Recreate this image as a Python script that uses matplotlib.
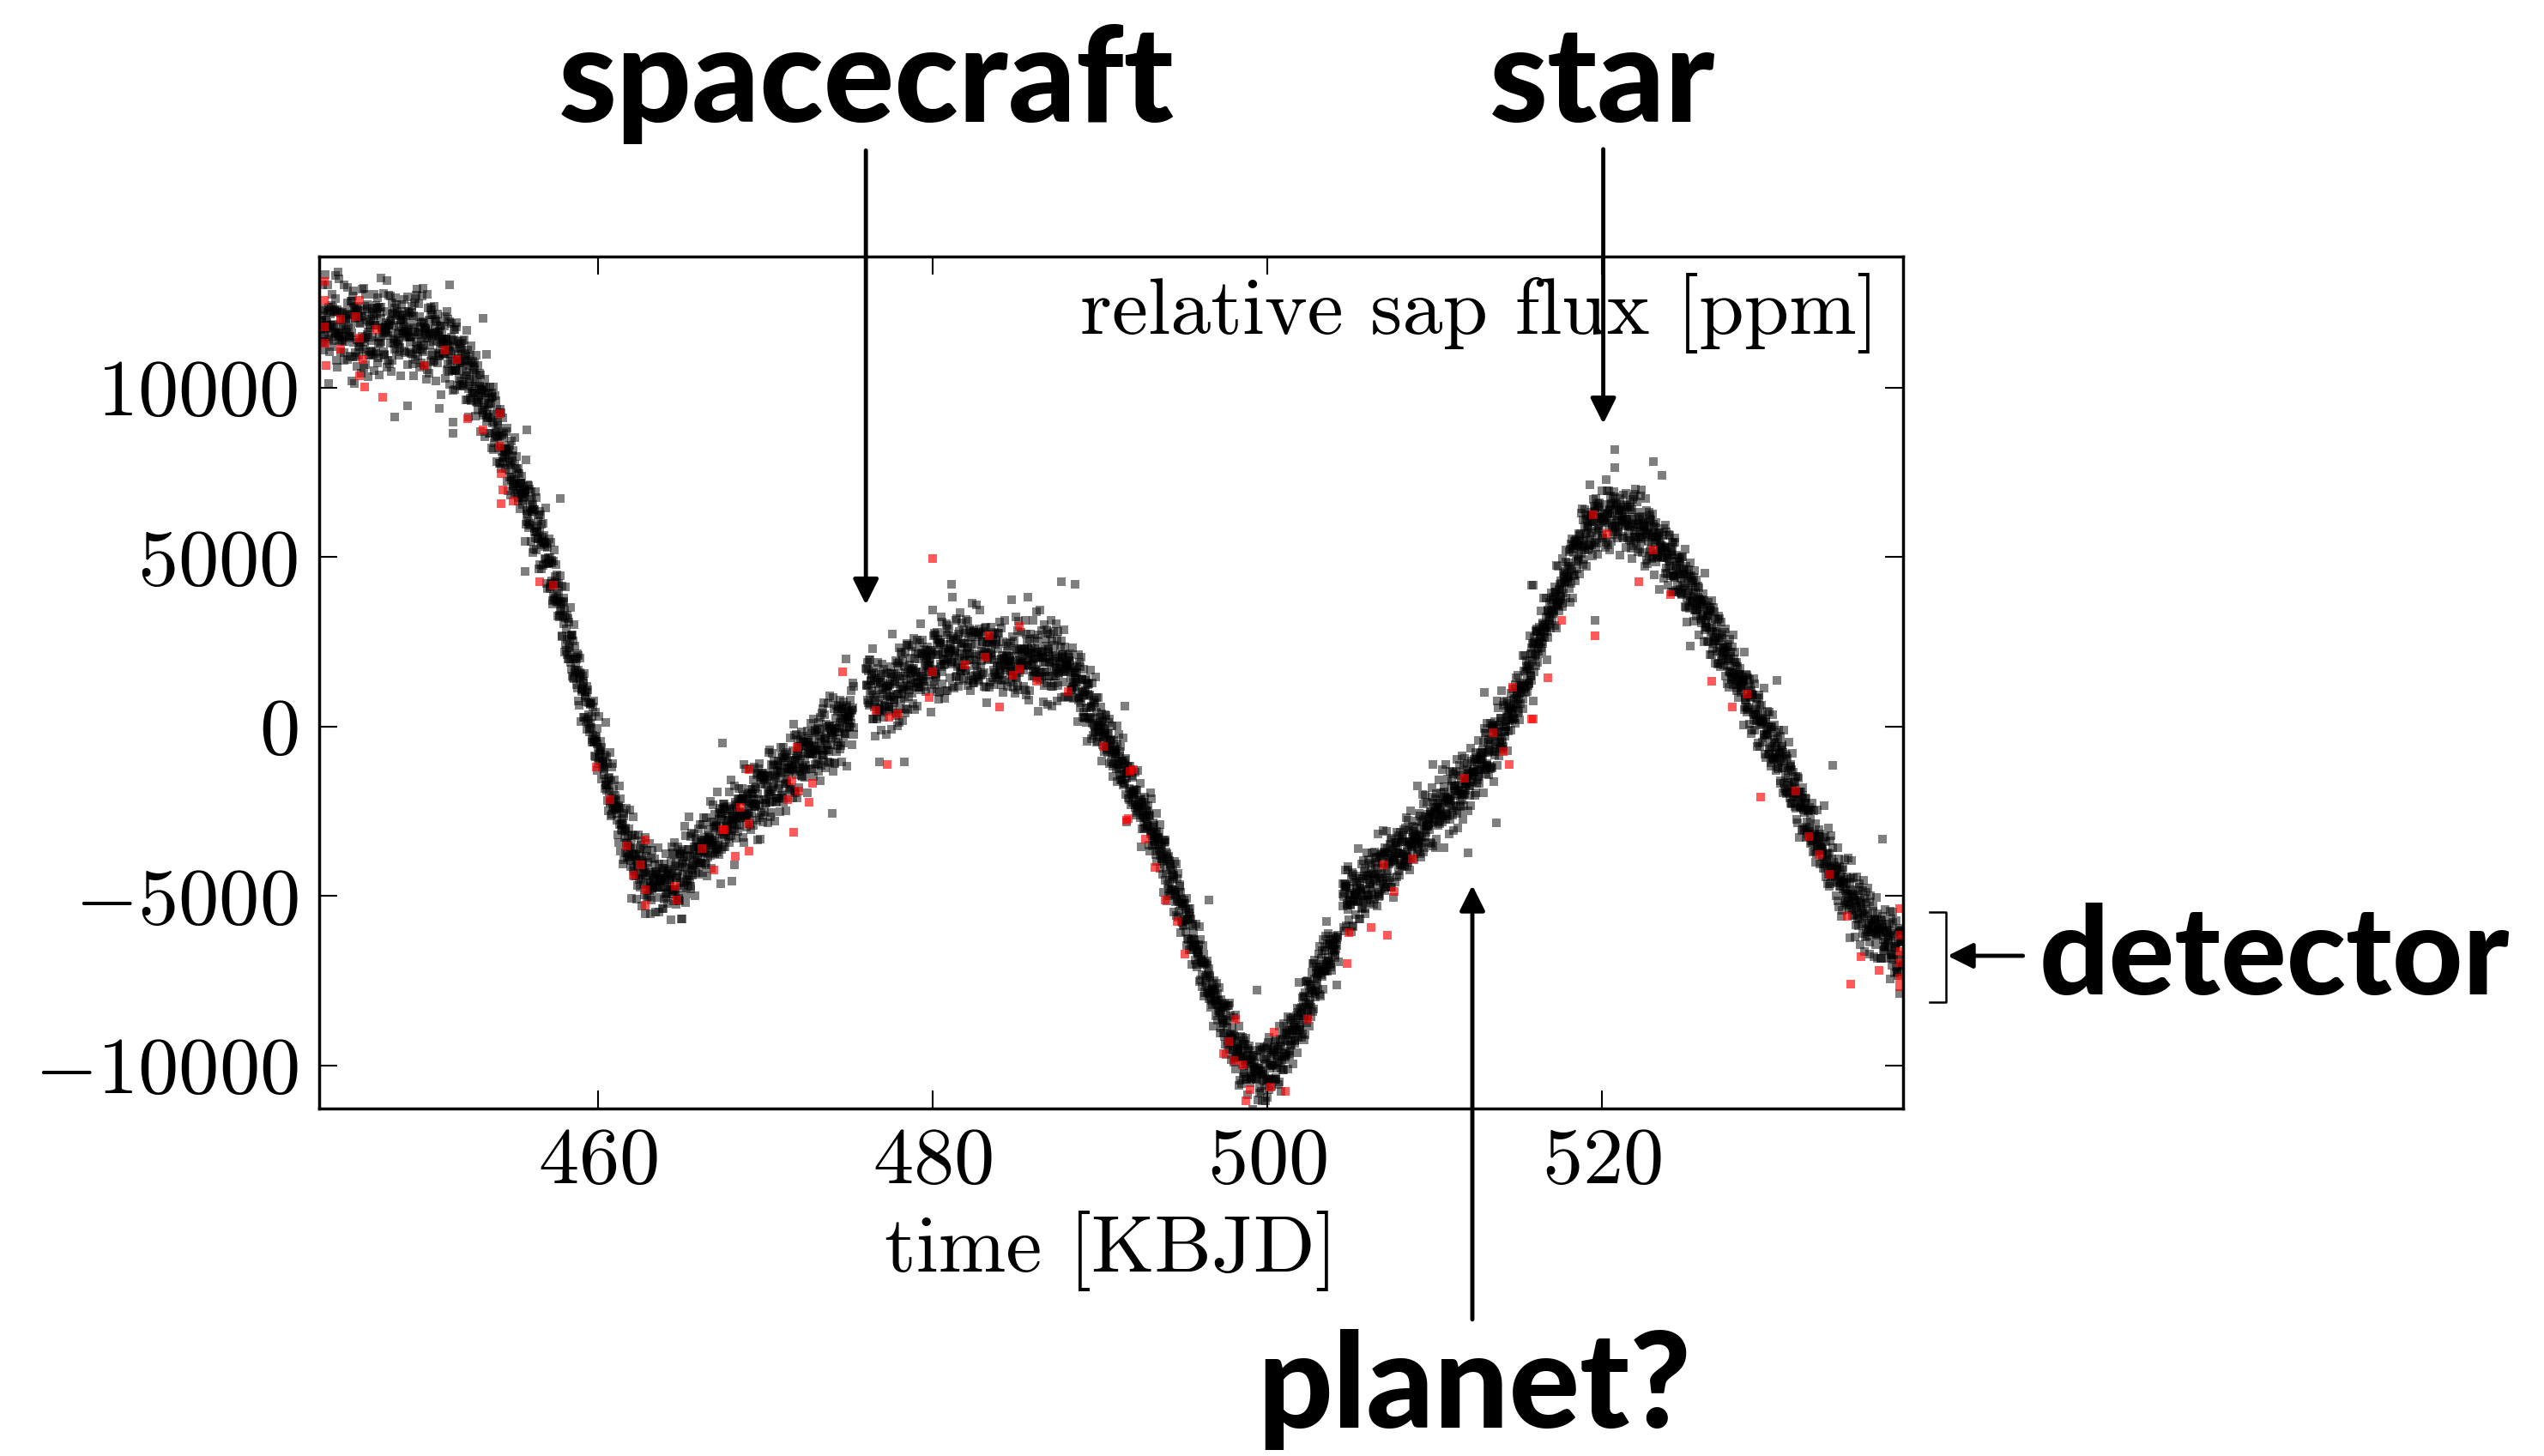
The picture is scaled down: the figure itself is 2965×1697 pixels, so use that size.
import numpy as np
import matplotlib.pyplot as plt
from matplotlib.lines import Line2D

plt.rcParams['font.family'] = 'serif'
plt.rcParams['font.serif'] = ['cmr10']
plt.rcParams['mathtext.fontset'] = 'cm'
plt.rcParams['axes.formatter.use_mathtext'] = True

# smoothed SAP light curve at knots (KBJD, ppm)
knot_time = [443.4, 444.5, 446.0, 448.0, 450.0, 451.0, 452.0, 452.8, 453.6, 454.4,
             455.6, 456.7, 457.7, 458.5, 459.4, 460.1, 460.8, 461.5, 462.1, 463.0,
             464.0, 465.0, 466.0, 467.3, 469.0, 470.8, 472.5, 474.2, 475.2, 476.1,
             476.8, 477.6, 479.3, 481.0, 482.7, 484.5, 486.2, 487.9, 488.9, 489.9,
             491.3, 492.5, 493.2, 494.9, 496.6, 498.3, 499.5, 500.7, 502.1, 503.5,
             504.2, 504.6, 505.2, 506.9, 508.6, 510.3, 512.0, 513.7, 514.6, 515.5,
             516.1, 517.2, 518.9, 519.8, 520.7, 522.4, 524.1, 525.8, 527.5, 529.2,
             530.9, 532.6, 534.4, 536.1, 537.8, 538.1]
knot_flux = [11900, 11800, 11600, 11700, 11500, 11150, 10600, 9900, 9230, 8100,
             6670, 5380, 3620, 2030, 430, -860, -1980, -3120, -3910, -4500,
             -4650, -4350, -3750, -3050, -2300, -1600, -800, -150, 300, 1300,
             800, 1050, 1700, 2150, 2150, 1900, 2000, 1800, 1050, 90,
             -1200, -2500, -3120, -5360, -7760, -9680, -10300, -9840, -8560, -6800,
             -6500, -5100, -5040, -4240, -3440, -2470, -1670, -390, 400, 1400,
             2330, 3620, 5550, 6050, 6190, 5870, 4910, 3620, 2030, 430,
             -1180, -3120, -4720, -5840, -6640, -6750]

# scatter (1 sigma, ppm) along the quarter
spread_time = [443.4, 448, 452, 454, 459, 462, 466, 472, 475, 478, 487, 489, 493,
               498, 500, 502, 505, 512, 515, 518, 520.5, 523, 526, 530, 534, 538.1]
spread_ppm = [750, 700, 600, 550, 520, 550, 600, 600, 550, 650, 650, 520, 460,
              450, 520, 450, 520, 520, 480, 480, 560, 520, 480, 480, 500, 560]

# quarter span, long cadence step and data gaps (days)
t_start, t_end = 443.40, 538.02
cadence = 0.02043
gaps = [(475.3, 476.0), (504.25, 504.5)]

# fixed unit residual tables
resid_a = [0.42, -1.13, 0.07, 1.56, -0.38, -0.91, 0.73, 0.18, -1.62, 1.04, -0.12,
           0.55, -0.67, 1.89, -0.29, 0.31, -1.35, 0.86, -0.05, -0.78, 1.21, 0.26,
           -0.49, -2.05, 0.64, 0.11, -0.98, 1.37, -0.21, 0.49, -1.44, 0.95, 0.02,
           -0.59, 1.68, -0.33, 0.79, -1.06, 0.37, -0.16, 1.12]
resid_b = [-0.57, 0.93, 0.14, -1.28, 0.61, -0.02, 1.47, -0.84, 0.29, -0.36, 1.05,
           -1.71, 0.48, 0.83, -0.44, -0.09, 1.26, -1.02, 0.19, 0.68, -0.63, 2.11,
           -0.27, -1.19, 0.35, 0.76, -0.51, -0.88, 0.04]

# isolated outliers (black)
out_time = [448.6, 451.3, 451.3, 450.5, 447.8, 455.7, 457.7, 455.6, 444.3, 447.0,
            451.1, 453.1, 465.0, 467.4, 487.7, 488.5, 481.1, 485.7, 468.0, 474.0,
            476.8, 478.3, 474.8, 491.5, 496.5, 499.4, 509.9, 512.0, 513.7, 515.8,
            513.0, 504.7, 520.8, 520.8, 523.1, 523.6, 519.3, 515.9, 533.8, 536.8,
            530.5, 525.3, 519.6]
out_flux = [9470, 8660, 8980, 9390, 9150, 8750, 6740, 4580, 13310, 13230,
            13040, 12060, -5680, -470, 4290, 4200, 4200, 3810, -4560, -2550,
            -1030, -1030, 2010, 600, -5110, -7760, -1110, -3730, -2830, 4180,
            1010, -4240, 8180, 7650, 7810, 7410, 7140, 4180, -1140, -3310,
            1370, 2370, 3140]

# flagged cadences (red)
red_time = [443.6, 443.6, 443.6, 443.6, 443.7, 444.6, 444.6, 445.5, 445.7, 445.7,
            445.9, 445.7, 446.0, 446.7, 447.1, 449.6, 450.8, 451.5, 452.2, 453.1,
            454.1, 454.1, 454.2, 454.3, 454.2, 454.9, 456.5, 457.3, 459.9, 460.7,
            461.7, 462.1, 462.5, 462.8, 462.8, 462.8, 464.6, 464.7, 466.2, 466.9,
            467.4, 467.5, 468.2, 468.5, 469.0, 469.0, 469.0, 471.3, 471.6, 472.0,
            471.7, 471.9, 472.6, 472.8, 474.6, 476.6, 477.3, 477.4, 477.9, 480.0,
            479.8, 480.0, 481.9, 483.1, 483.4, 484.0, 484.8, 485.2, 485.2, 486.2,
            488.1, 490.2, 491.8, 491.6, 492.0, 491.7, 492.7, 493.3, 493.9, 494.6,
            495.1, 497.7, 498.1, 497.4, 498.0, 498.5, 498.7, 499.0, 500.2, 501.1,
            500.4, 502.4, 504.9, 504.8, 506.2, 507.0, 507.2, 507.6, 508.7, 511.8,
            513.5, 514.1, 514.5, 514.7, 515.8, 515.9, 516.8, 517.6, 519.5, 520.3,
            519.6, 522.2, 523.1, 524.1, 526.6, 527.8, 528.7, 529.5, 531.6, 532.4,
            533.0, 533.6, 534.7, 534.9, 535.5, 536.6, 537.8, 537.8, 537.9, 537.8,
            537.8, 537.9]
red_flux = [13150, 12590, 11790, 11310, 10670, 12030, 11150, 12110, 12590, 11470,
            10830, 10350, 10030, 11710, 9710, 10670, 11120, 10830, 9100, 8750,
            9230, 8270, 7470, 6990, 6580, 6670, 4290, 4180, -1190, -2150,
            -3510, -4390, -4070, -4800, -5270, -3350, -4710, -5110, -3600, -4240,
            -3030, -3030, -3830, -2390, -2870, -3670, -1270, -2150, -1590, -1910,
            -3110, -620, -2230, -1670, 1610, 490, -1110, 280, 380, 4950,
            860, 1610, 1820, 2050, 2690, 570, 1530, 1690, 2970, 1340,
            1050, -580, -1320, -2760, -1270, -2710, -3310, -4150, -5110, -5750,
            -6720, -9280, -8640, -9650, -9840, -9970, -11040, -10720, -10640, -10770,
            -9010, -8640, -6080, -7000, -5920, -4080, -6160, -4850, -3890, -1510,
            -190, -740, -1110, 1170, 220, 220, 1450, 3140, 6260, 5700,
            2690, 4290, 5220, 3910, 1340, 570, 970, -2080, -1910, -3240,
            -3780, -4360, -5590, -7590, -6790, -7190, -5360, -6160, -6640, -7430,
            -7670, -6960]

# build the cadence series
t = np.arange(t_start, t_end, cadence)
idx = np.arange(len(t))
ra = np.array(resid_a)[idx % len(resid_a)]
rb = np.array(resid_b)[idx % len(resid_b)]
flux = np.interp(t, knot_time, knot_flux) + np.interp(t, spread_time, spread_ppm) * (0.75 * ra + 0.66 * rb)
keep = np.ones(len(t), dtype=bool)
for a, b in gaps:
    keep &= ~((t > a) & (t < b))
t, flux = t[keep], flux[keep]

fig = plt.figure(figsize=(29.65, 16.97), dpi=100)
ax = fig.add_axes([0.12563, 0.23866, 0.62243, 0.58515])

ax.plot(t, flux, 's', color='k', ms=7.5, mew=0, alpha=0.5)
ax.plot(out_time, out_flux, 's', color='k', ms=7.5, mew=0, alpha=0.5)
ax.plot(red_time, red_flux, 's', color='r', ms=7.5, mew=0, alpha=0.65)

ax.set_xlim(443.33, 538.03)
ax.set_ylim(-11266, 13873)
ax.set_xticks([460, 480, 500, 520])
ax.set_yticks([-10000, -5000, 0, 5000, 10000])
ax.tick_params(direction='in', top=True, right=True, length=15, width=1.5, labelsize=68)
ax.tick_params(axis='x', pad=16)
ax.tick_params(axis='y', pad=18)
for s in ax.spines.values():
    s.set_linewidth(2.5)

ax.set_xlabel('time [KBJD]', fontsize=68)
ax.xaxis.label.set_va('baseline')
ax.xaxis.set_label_coords(0.5, -0.1915)
ax.text(0.985, 0.909, 'relative sap flux [ppm]', transform=ax.transAxes,
        ha='right', va='baseline', fontsize=68)

# callouts
lab = dict(family='Lato', fontweight='black', fontsize=111, color='k')
fig.text(0.3406, 0.9163, 'spacecraft', ha='center', va='baseline', **lab)
fig.text(0.6298, 0.9163, 'star', ha='center', va='baseline', **lab)
fig.text(0.5794, 0.0194, 'planet?', ha='center', va='baseline', **lab)
fig.text(0.8014, 0.3170, 'detector', ha='left', va='baseline',
         **dict(lab, fontsize=103))

arw = dict(arrowstyle='-|>,head_length=0.9,head_width=0.45', color='k', lw=3.5,
           mutation_scale=20, shrinkA=0, shrinkB=0)
ax.annotate('', xy=(476.0, 3600), xytext=(476.0, 17000), arrowprops=arw, annotation_clip=False)
ax.annotate('', xy=(520.1, 8940), xytext=(520.1, 17040), arrowprops=arw, annotation_clip=False)
ax.annotate('', xy=(512.27, -4680), xytext=(512.27, -17490), arrowprops=arw, annotation_clip=False)
ax.annotate('', xy=(540.69, -6760), xytext=(545.2, -6760), arrowprops=arw, annotation_clip=False)

# bracket over the detector-affected stretch
bx = [539.6, 540.6, 540.6, 539.6]
by = [-5460, -5460, -8130, -8130]
ax.add_line(Line2D(bx, by, color='k', lw=1.8, clip_on=False))

fig.savefig('out.png', dpi=100)
